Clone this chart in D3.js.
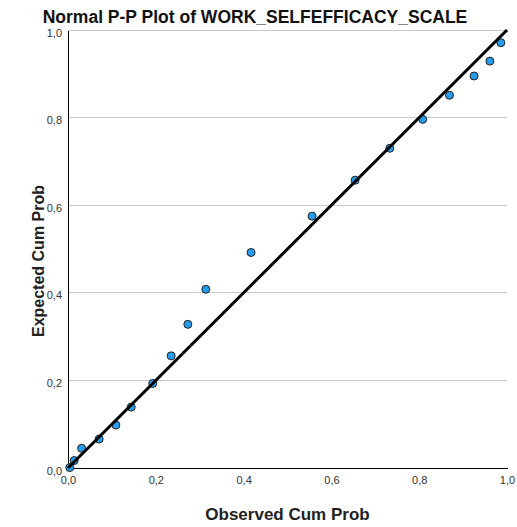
<!DOCTYPE html>
<html><head><meta charset="utf-8">
<script src="https://cdn.jsdelivr.net/npm/d3@7"></script>
<style>body{margin:0;background:#fff;}svg{display:block;}</style>
</head><body>
<script>
const titleText = "Normal P-P Plot of WORK_SELFEFFICACY_SCALE";
const xLabel = "Observed Cum Prob";
const yLabel = "Expected Cum Prob";
const observed = [0.004,0.014,0.031,0.071,0.109,0.144,0.193,0.235,0.273,0.314,0.417,0.556,0.654,0.733,0.808,0.869,0.925,0.961,0.986];
const expected = [0.001,0.017,0.045,0.066,0.098,0.139,0.193,0.256,0.328,0.408,0.492,0.575,0.657,0.730,0.796,0.851,0.895,0.929,0.971];
const tickValues = [0,0.2,0.4,0.6,0.8,1.0];
const refLine = [[0,0],[1,1]];

const W=517,H=527;
const svg=d3.select("body").append("svg").attr("width",W).attr("height",H);
const x=d3.scaleLinear().domain([0,1]).range([68,507]);
const y=d3.scaleLinear().domain([0,1]).range([468,30]);
const fmt=d=>d3.format(".1f")(d).replace(".",",");
const font="Liberation Sans, Arial, sans-serif";

// gridlines
svg.append("g").selectAll("line").data(tickValues.filter(d=>d>0)).join("line")
  .attr("x1",x(0)).attr("x2",x(1)).attr("y1",d=>y(d)).attr("y2",d=>y(d))
  .attr("stroke","#c8c8c8").attr("stroke-width",1).attr("shape-rendering","crispEdges");

// axes
const xAxis=d3.axisBottom(x).tickValues(tickValues).tickFormat(fmt).tickSize(0).tickPadding(8);
const yAxis=d3.axisLeft(y).tickValues(tickValues).tickFormat(fmt).tickSize(0).tickPadding(6);
const gx=svg.append("g").attr("transform",`translate(0,${y(0)})`).call(xAxis);
const gy=svg.append("g").attr("transform",`translate(${x(0)},0)`).call(yAxis);
[gx,gy].forEach(g=>{
  g.select(".domain").attr("stroke","#000").attr("stroke-width",1).attr("shape-rendering","crispEdges");
  g.selectAll("text").attr("font-family",font).attr("font-size",11).attr("fill","#333");
});
gy.selectAll("text").attr("dy","0.55em");

// points
svg.append("g").selectAll("circle").data(observed.map((o,i)=>[o,expected[i]])).join("circle")
  .attr("cx",d=>x(d[0])).attr("cy",d=>y(d[1])).attr("r",4)
  .attr("fill","#259cec").attr("stroke","#222").attr("stroke-width",1);

// reference line
svg.append("path").datum(refLine)
  .attr("d",d3.line().x(d=>x(d[0])).y(d=>y(d[1])))
  .attr("stroke","#000").attr("stroke-width",3).attr("fill","none");

// titles
svg.append("text").attr("x",255).attr("y",22.5).attr("text-anchor","middle")
  .attr("font-family",font).attr("font-size",17.5).attr("font-weight","bold").attr("fill","#111").text(titleText);
svg.append("text").attr("x",287.5).attr("y",519.5).attr("text-anchor","middle")
  .attr("font-family",font).attr("font-size",17).attr("font-weight","bold").attr("fill","#222").text(xLabel);
svg.append("text").attr("transform","translate(44,261) rotate(-90)").attr("text-anchor","middle")
  .attr("font-family",font).attr("font-size",16).attr("font-weight","bold").attr("fill","#222").text(yLabel);
</script>
</body></html>
